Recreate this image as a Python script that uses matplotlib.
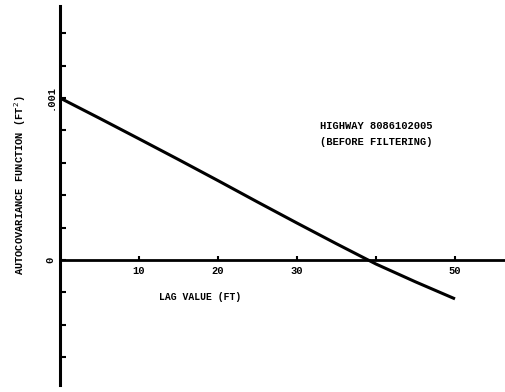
import matplotlib
matplotlib.use('Agg')
import matplotlib.pyplot as plt
from matplotlib.ticker import FixedLocator, FixedFormatter

lag = [0, 5, 10, 15, 20, 25, 30, 35, 40, 45, 50]
autocov = [0.00100, 0.000875, 0.000748, 0.000620, 0.000490, 0.000358,
           0.000228, 0.000100, -0.000025, -0.000135, -0.000240]

x_ticks = [10, 20, 30, 40, 50]
x_tick_labels = ['10', '20', '30', '', '50']
y_ticks = [-0.0006, -0.0004, -0.0002, 0.0, 0.0002, 0.0004, 0.0006,
           0.0008, 0.0010, 0.0012, 0.0014]
y_tick_labels = ['', '', '', '0', '', '', '', '', '.001', '', '']

font = ['Liberation Mono', 'DejaVu Sans Mono']

fig = plt.figure(figsize=(5.06, 3.92), dpi=100)
ax = fig.add_axes([0, 0, 1, 1])
ax.set_xlim(-60 / 7.9, 446 / 7.9)
ax.set_ylim(-0.000815, 0.001605)

ax.plot(lag, autocov, color='k', lw=2.2, solid_capstyle='butt',
        solid_joinstyle='round')

for s in ['top', 'right']:
    ax.spines[s].set_visible(False)
ax.spines['left'].set_position(('data', 0))
ax.spines['bottom'].set_position(('data', 0))
ax.spines['left'].set_bounds(-0.00077, 0.00157)
ax.spines['bottom'].set_bounds(0, 56.5)
ax.spines['left'].set_linewidth(2.2)
ax.spines['bottom'].set_linewidth(2.0)

ax.xaxis.set_major_locator(FixedLocator(x_ticks))
ax.xaxis.set_major_formatter(FixedFormatter(x_tick_labels))
ax.yaxis.set_major_locator(FixedLocator(y_ticks))
ax.yaxis.set_major_formatter(FixedFormatter(y_tick_labels))
ax.tick_params(axis='x', direction='in', length=3, width=1.5, pad=4)
ax.tick_params(axis='y', direction='in', length=4, width=1.5, pad=3)
for t in ax.get_xticklabels():
    t.set_family(font)
    t.set_fontweight('bold')
    t.set_fontsize(7.5)
for t in ax.get_yticklabels():
    t.set_family(font)
    t.set_fontweight('bold')
    t.set_fontsize(7.5)
    t.set_rotation(90)
    t.set_verticalalignment('center')

ax.text(17.8, -0.00023, 'LAG VALUE (FT)', family=font, fontweight='bold',
        fontsize=7, ha='center', va='center')
ax.text(-5.1, 0.00046, 'AUTOCOVARIANCE FUNCTION (FT$^2$)', family=font,
        fontweight='bold', fontsize=7.5, rotation=90, ha='center', va='center')
ax.text(32.9, 0.00083, 'HIGHWAY 8086102005', family=font, fontweight='bold',
        fontsize=7.5, ha='left', va='center')
ax.text(32.9, 0.00073, '(BEFORE FILTERING)', family=font, fontweight='bold',
        fontsize=7.5, ha='left', va='center')

fig.savefig('out.png', dpi=100)
